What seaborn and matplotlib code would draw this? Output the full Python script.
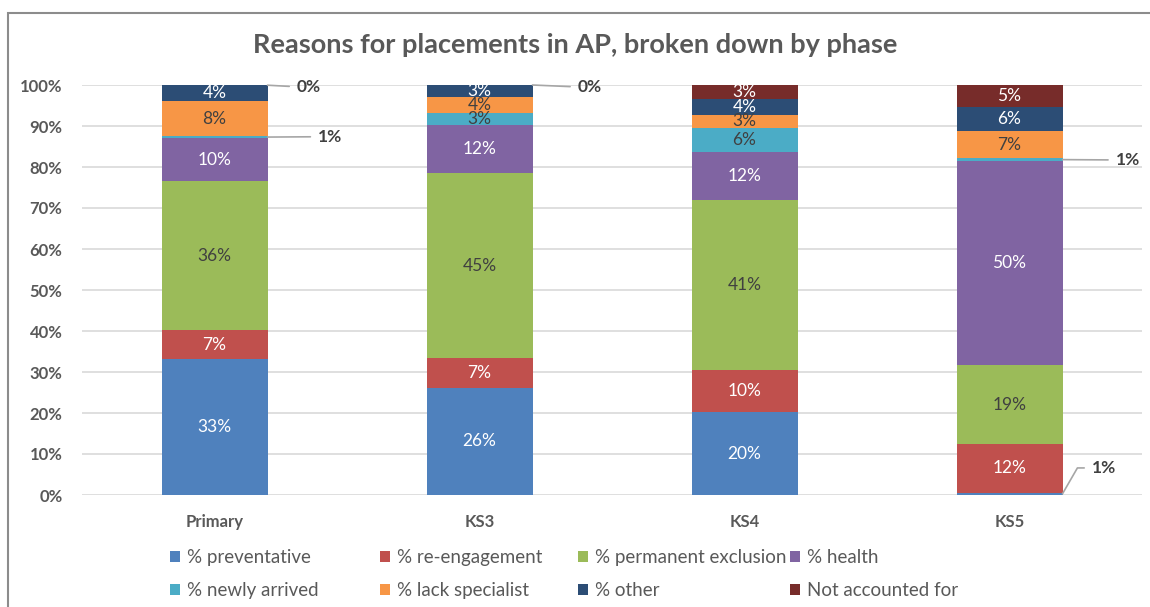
import numpy as np
import pandas as pd
import matplotlib
matplotlib.use("Agg")
import matplotlib.pyplot as plt
from matplotlib.patches import Patch, Rectangle
import seaborn as sns

phases = ["Primary", "KS3", "KS4", "KS5"]
series_names = ["% preventative", "% re-engagement", "% permanent exclusion", "% health",
                "% newly arrived", "% lack specialist", "% other", "Not accounted for"]

preventative = [33.2, 26.1, 20.2, 0.6]
re_engagement = [7.0, 7.3, 10.3, 11.8]
perm_exclusion = [36.4, 45.1, 41.4, 19.2]
health = [10.4, 11.7, 11.7, 49.9]
newly_arrived = [0.6, 3.0, 5.8, 0.6]
lack_specialist = [8.4, 3.9, 3.4, 6.6]
other = [3.9, 2.9, 3.9, 5.9]
not_accounted = [0.1, 0.0, 3.3, 5.4]

colors = ["#4F81BD", "#C0504D", "#9BBB59", "#8064A2",
          "#4BACC6", "#F79646", "#2C4D75", "#772C2A"]
label_colors = ["white", "white", "#404040", "white",
                "#404040", "#404040", "white", "white"]

# segments labelled outside the bar: (phase, series, x offset, y)
callouts = [(0, 7, 0.31, 99.4), (0, 4, 0.39, 87.4), (1, 7, 0.37, 99.4),
            (3, 4, 0.40, 81.7), (3, 0, 0.31, 6.6)]

values = np.array([preventative, re_engagement, perm_exclusion, health,
                   newly_arrived, lack_specialist, other, not_accounted])
tops = values.cumsum(axis=0)

sns.set_theme(style="white")
plt.rcParams["font.family"] = ["Lato", "DejaVu Sans"]

fig = plt.figure(figsize=(11.5, 6.07), dpi=100)
ax = fig.add_axes([82 / 1150, 1 - 495 / 607, 1060 / 1150, 410 / 607])

# stacked bars: draw the tallest cumulative total first, smaller totals over it
for i in range(len(series_names) - 1, -1, -1):
    df = pd.DataFrame({"phase": phases, "top": tops[i]})
    sns.barplot(data=df, x="phase", y="top", color=colors[i], width=0.4,
                saturation=1, ax=ax, zorder=3, linewidth=0)

outside = {(c, s) for c, s, _, _ in callouts}
for s in range(len(series_names)):
    for c in range(len(phases)):
        if (c, s) in outside or values[s, c] <= 0:
            continue
        ax.text(c, tops[s, c] - values[s, c] / 2, f"{values[s, c]:.0f}%",
                ha="center", va="center", fontsize=12.5, color=label_colors[s], zorder=5)

for c, s, dx, ly in callouts:
    seg_y = tops[s, c] - values[s, c] / 2
    if s == 0:
        conn = "angle,angleA=0,angleB=60,rad=0"
    else:
        conn = "arc3"
    ax.annotate(f"{values[s, c]:.0f}%", xy=(c + 0.2, seg_y), xytext=(c + dx, ly),
                ha="left", va="center", fontsize=12.5, fontweight="bold", color="#404040",
                arrowprops=dict(arrowstyle="-", color="#A6A6A6", lw=1.2,
                                connectionstyle=conn, shrinkA=3, shrinkB=0),
                zorder=6)

ax.set_ylim(0, 100)
ax.set_xlim(-0.5, 3.5)
ax.set_yticks(np.arange(0, 101, 10))
ax.set_yticklabels([f"{t}%" for t in range(0, 101, 10)])
ax.yaxis.grid(True, color="#D9D9D9", lw=1.2, zorder=0)
ax.set_axisbelow(True)
for sp in ax.spines.values():
    sp.set_visible(False)
ax.tick_params(axis="y", length=0, pad=14, labelsize=12, labelcolor="#595959")
ax.tick_params(axis="x", length=0, pad=14, labelsize=12, labelcolor="#595959")
for lab in ax.get_yticklabels() + ax.get_xticklabels():
    lab.set_fontweight("bold")
ax.set_xlabel("")
ax.set_ylabel("")

fig.text(0.5, 1 - 45 / 607, "Reasons for placements in AP, broken down by phase",
         ha="center", va="center", fontsize=19.5, fontweight="bold", color="#595959")

# legend: 4 columns, 2 rows
col_x = [170, 380, 578, 790]
for k in range(4):
    handles = [Patch(facecolor=colors[k], edgecolor="none", label=series_names[k]),
               Patch(facecolor=colors[k + 4], edgecolor="none", label=series_names[k + 4])]
    leg = fig.legend(handles=handles, loc="upper left",
                     bbox_to_anchor=(col_x[k] / 1150, 1 - 549 / 607),
                     frameon=False, fontsize=13.5, handlelength=0.55, handleheight=0.55,
                     handletextpad=0.35, labelspacing=0.85, borderaxespad=0, borderpad=0)
    for t in leg.get_texts():
        t.set_color("#595959")

fig.patches.append(Rectangle((8 / 1150, -0.1), 1.2, 1.1 - 13 / 607, transform=fig.transFigure,
                             fill=False, edgecolor="#8C8C8C", lw=1.5))

fig.savefig("out.png", dpi=100, facecolor="white")
